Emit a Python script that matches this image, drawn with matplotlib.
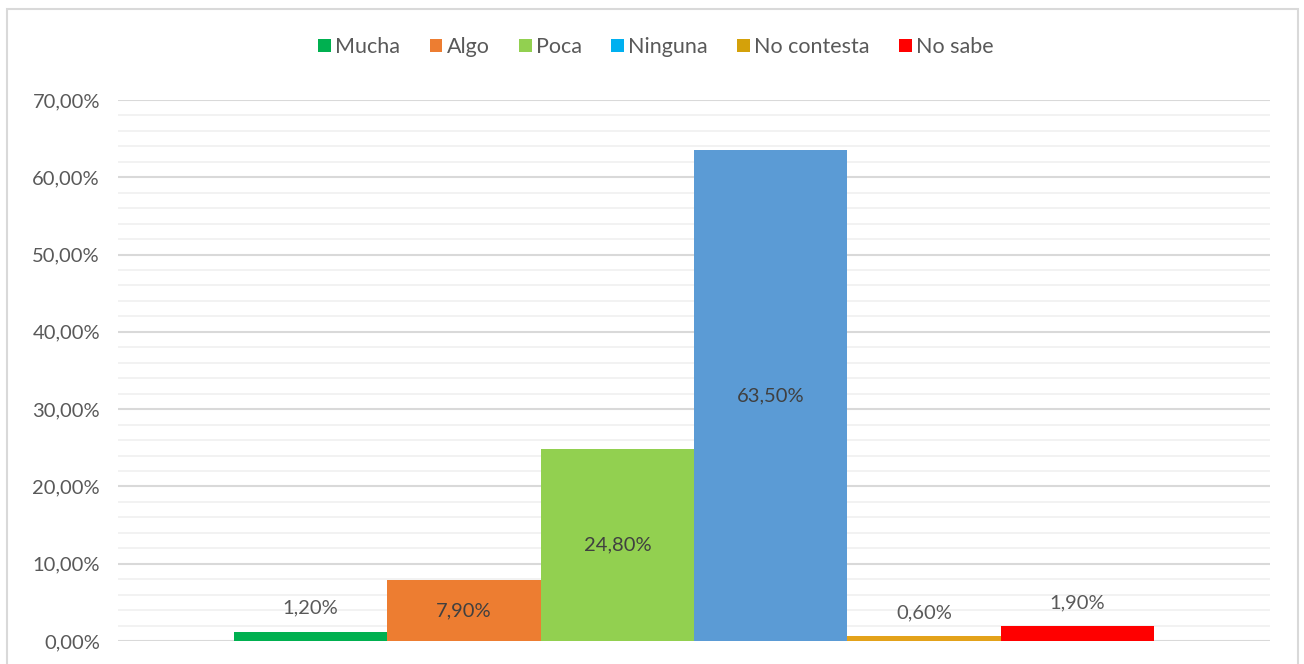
import matplotlib.pyplot as plt
from matplotlib.patches import Patch, Rectangle
from matplotlib.ticker import MultipleLocator, FuncFormatter

# datos de la encuesta
series = ['Mucha', 'Algo', 'Poca', 'Ninguna', 'No contesta', 'No sabe']
values = [1.2, 7.9, 24.8, 63.5, 0.6, 1.9]
bar_colors = ['#00B050', '#ED7D31', '#92D050', '#5B9BD5', '#E3A21A', '#FF0000']
legend_colors = ['#00B050', '#ED7D31', '#92D050', '#00B0F0', '#D4A10A', '#FF0000']

plt.rcParams['font.family'] = ['Lato', 'DejaVu Sans']

fig = plt.figure(figsize=(13.04, 6.64), dpi=100)
# marco gris del grafico
fig.patches.append(Rectangle((7 / 1304, -0.01), 1291 / 1304, 1 - 9 / 664 + 0.01,
                             transform=fig.transFigure, fill=False,
                             edgecolor='#D9D9D9', linewidth=1.5))

ax = fig.add_axes([118 / 1304, 23 / 664, 1152 / 1304, 541 / 664])

n = len(series)
w = 0.7986 / n
for i, (v, c) in enumerate(zip(values, bar_colors)):
    x = (i - (n - 1) / 2) * w
    ax.bar(x, v, width=w, color=c, zorder=3)
    label = ('%.2f%%' % v).replace('.', ',')
    if v < 5:
        ax.annotate(label, (x, v), xytext=(0, 11), textcoords='offset points',
                    ha='center', va='bottom', fontsize=14.5, color='#595959')
    else:
        ax.text(x, v / 2, label, ha='center', va='center', fontsize=14.5, color='#404040')

ax.set_xlim(-0.5, 0.5)
ax.set_ylim(0, 70)
ax.yaxis.set_major_locator(MultipleLocator(10))
ax.yaxis.set_minor_locator(MultipleLocator(2))
ax.yaxis.set_major_formatter(FuncFormatter(lambda y, p: ('%.2f%%' % y).replace('.', ',')))
ax.grid(which='major', axis='y', color='#D9D9D9', linewidth=1.5, zorder=0)
ax.grid(which='minor', axis='y', color='#F0F0F0', linewidth=1.2, zorder=0)
ax.set_xticks([])
ax.tick_params(axis='y', which='both', length=0, labelsize=14.5, labelcolor='#595959', pad=13)
for s in ax.spines.values():
    s.set_visible(False)

handles = [Patch(facecolor=c) for c in legend_colors]
fig.legend(handles, series, loc='center', bbox_to_anchor=(0.503, 1 - 47 / 664), ncol=n,
           frameon=False, fontsize=15.5, labelcolor='#595959', handlelength=0.6,
           handleheight=0.6, handletextpad=0.2, columnspacing=1.35)

plt.savefig('out.png', dpi=100)
